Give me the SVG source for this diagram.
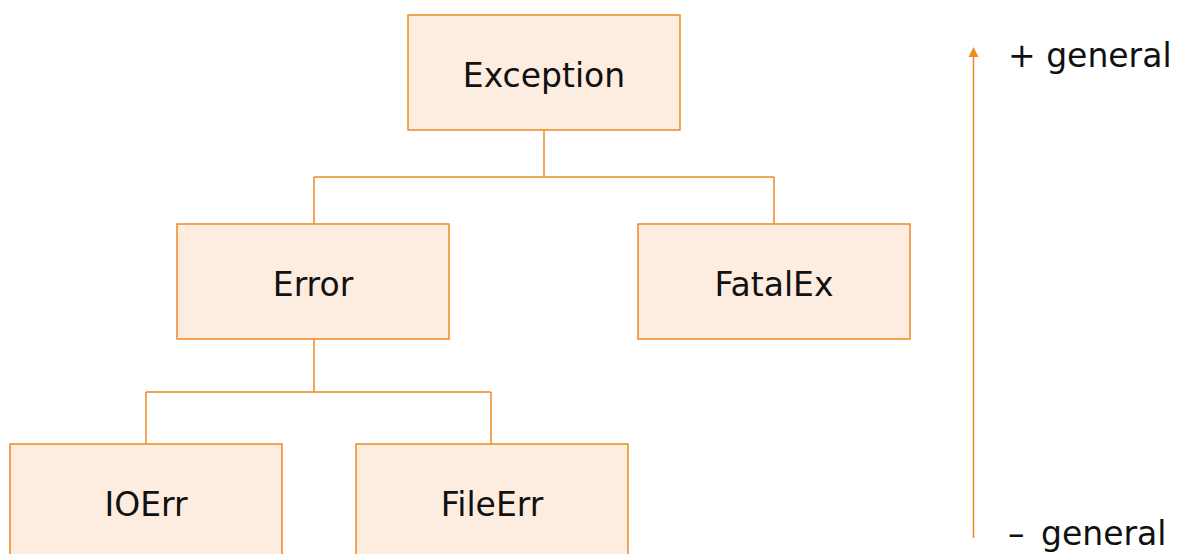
<svg xmlns="http://www.w3.org/2000/svg" width="1178" height="554" viewBox="0 0 1178 554">
  <style>
    .box { fill: #FDECE0; stroke: #EE8A22; stroke-width: 1.5; }
    .link { fill: none; stroke: #EE8A22; stroke-width: 1.5; }
    .label { font-family: "DejaVu Sans", sans-serif; font-size: 33px; fill: #111; text-anchor: middle; }
    .side { font-family: "DejaVu Sans", sans-serif; font-size: 33px; fill: #111; }
  </style>

  <rect width="1178" height="554" fill="#ffffff"/>

  <!-- tree connectors -->
  <g id="connectors">
    <path class="link" d="M544,130 V177 M314,177 H774 M314,177 V224 M774,177 V224"/>
    <path class="link" d="M314,339 V392 M146,392 H491 M146,392 V444 M491,392 V444"/>
  </g>

  <g id="node-exception">
    <rect class="box" x="408" y="15" width="272" height="115"/>
    <text class="label" x="544" y="87">Exception</text>
  </g>
  <g id="node-error">
    <rect class="box" x="177" y="224" width="272" height="115"/>
    <text class="label" x="313" y="296">Error</text>
  </g>
  <g id="node-fatalex">
    <rect class="box" x="638" y="224" width="272" height="115"/>
    <text class="label" x="774" y="296">FatalEx</text>
  </g>
  <g id="node-ioerr">
    <rect class="box" x="10" y="444" width="272" height="115"/>
    <text class="label" x="146" y="516">IOErr</text>
  </g>
  <g id="node-fileerr">
    <rect class="box" x="356" y="444" width="272" height="115"/>
    <text class="label" x="492" y="516">FileErr</text>
  </g>

  <!-- generality scale -->
  <g id="scale">
    <line class="link" x1="973.5" y1="538" x2="973.5" y2="55"/>
    <polygon points="973.5,47 968.5,57 978.5,57" fill="#EE8A22"/>
    <text class="side" x="1008" y="67">+ general</text>
    <text class="side" x="1008" y="545" word-spacing="6">– general</text>
  </g>
</svg>
